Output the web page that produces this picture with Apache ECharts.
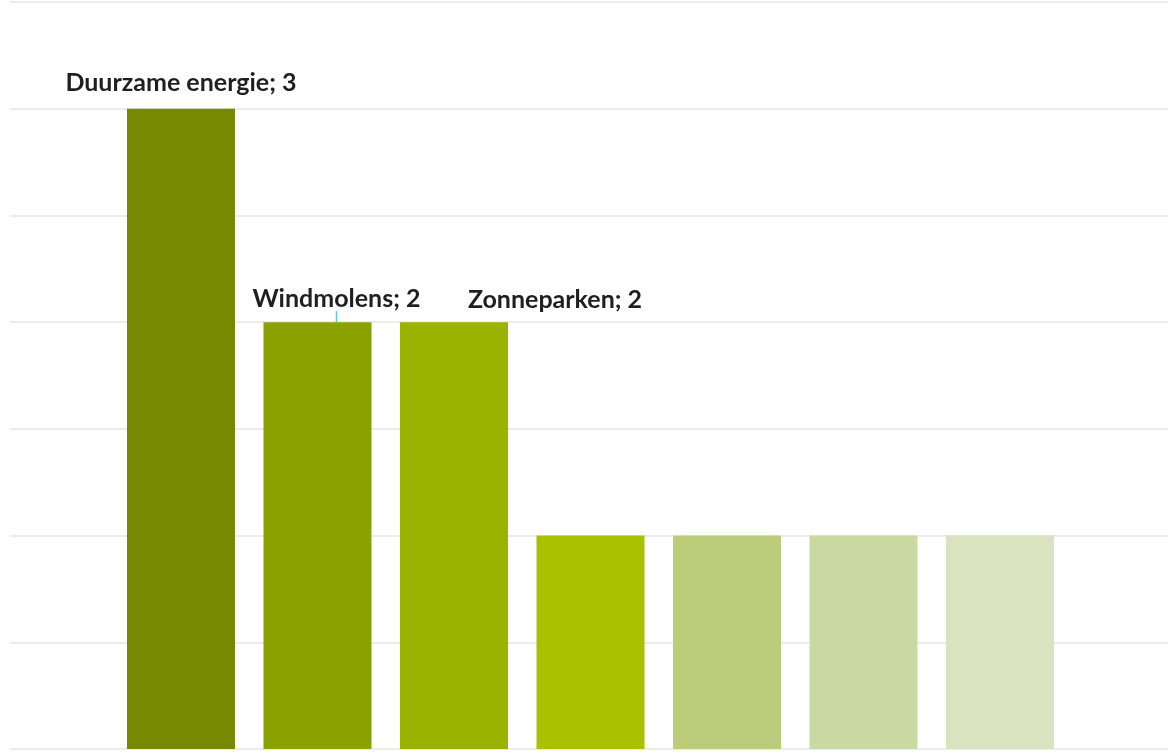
<!DOCTYPE html>
<html>
<head>
<meta charset="utf-8">
<style>
  html, body { margin: 0; padding: 0; background: #fff; }
  #chart { width: 1168px; height: 755px; }
</style>
<script src="https://cdn.jsdelivr.net/npm/echarts@6/dist/echarts.min.js"></script>
</head>
<body>
<div id="chart"></div>
<script>
// data
let categories = ['Duurzame energie', 'Windmolens', 'Zonneparken', 'Categorie 4', 'Categorie 5', 'Categorie 6', 'Categorie 7'];
let values = [3, 2, 2, 1, 1, 1, 1];
let colors = ['#768a00', '#8aa200', '#99b300', '#a8c200', '#bbcd7a', '#cad8a2', '#d9e3bf'];
let showLabel = [true, true, true, false, false, false, false];
// label shifts (px) relative to default top position
let labelShift = [[0, -8], [19, -6], [101, -5], [0, 0], [0, 0], [0, 0], [0, 0]];

let myChart = echarts.init(document.getElementById('chart'));

let seriesData = [];
for (let i = 0; i < values.length; i++) {
    seriesData.push({
        name: categories[i],
        value: [i, values[i]],
        itemStyle: { color: colors[i] },
        label: { show: showLabel[i] },
        labelLine: { show: i === 1 }
    });
}

let option = {
    backgroundColor: '#fff',
    animation: false,
    grid: { left: 10, right: 0, top: 2, bottom: 6 },
    xAxis: {
        type: 'value',
        min: -1.2527,
        max: 7.2308,
        show: false,
        splitLine: { show: false }
    },
    yAxis: {
        type: 'value',
        min: 0,
        max: 3.5,
        interval: 0.5,
        axisLabel: { show: false },
        axisLine: { show: false },
        axisTick: { show: false },
        splitLine: {
            lineStyle: { color: '#ececec', width: 2 }
        }
    },
    series: [{
        type: 'bar',
        barWidth: 108,
        data: seriesData,
        label: {
            position: 'top',
            distance: 5,
            fontFamily: 'Lato',
            fontWeight: 'bold',
            fontSize: 25,
            color: '#1f1f1f',
            formatter: function (p) {
                return p.name + '; ' + p.value[1];
            }
        },
        labelLine: {
            lineStyle: { color: '#62c3e6', width: 1.5 }
        },
        labelLayout: function (params) {
            let s = labelShift[params.dataIndex];
            return { dx: s[0], dy: s[1] };
        }
    }]
};
myChart.setOption(option);
window.onresize = function () {
    myChart.resize();
};
</script>
</body>
</html>
